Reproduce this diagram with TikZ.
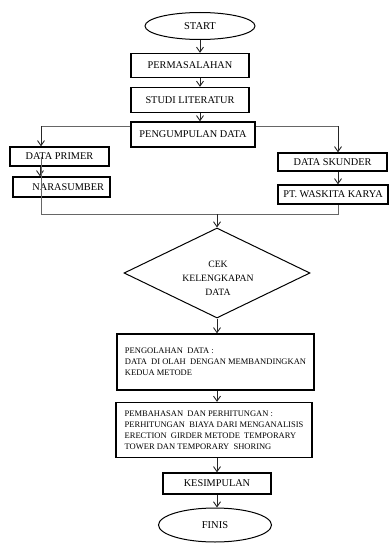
\documentclass[tikz,border=0pt]{standalone}
\usepackage{fontspec}
\setmainfont{Liberation Serif}
\usetikzlibrary{shapes.geometric,arrows.meta}
\begin{document}
\begin{tikzpicture}[x=1pt,y=-1pt,
  box/.style={draw=black,line width=1.3pt,rectangle,inner sep=0pt,font=\fontsize{10.3}{12}\selectfont},
  oval/.style={draw=black,line width=1pt,ellipse,inner sep=0pt,font=\fontsize{10.5}{12}\selectfont},
  txtbox/.style={draw=black,line width=1.3pt,rectangle,inner sep=0pt,align=left,font=\fontsize{8.5}{11}\selectfont},
  conn/.style={draw=black!60,line width=0.8pt},
  arr/.style={draw=black!85,line width=0.9pt,-{Straight Barb[length=5pt,width=7pt]}}]
\useasboundingbox (0,0) rectangle (389,543);

\node[oval,minimum width=110pt,minimum height=27pt] (start) at (200,26) {START};
\node[box,minimum width=118pt,minimum height=24pt] (perm) at (190,65.5) {PERMASALAHAN};
\node[box,minimum width=118pt,minimum height=25pt] (studi) at (190,100) {STUDI LITERATUR};
\node[box,minimum width=124pt,minimum height=25pt] (pd) at (193,134.5) {PENGUMPULAN DATA};
\node[box,minimum width=99pt,minimum height=19pt] (dp) at (59.5,156.5) {DATA PRIMER};
\node[box,minimum width=97pt,minimum height=20pt,text width=85pt,align=right] (nara) at (61.5,187) {NARASUMBER};
\node[box,minimum width=109pt,minimum height=18pt] (ds) at (332.5,162) {DATA SKUNDER};
\node[box,minimum width=110pt,minimum height=19pt] (pt) at (333,194.5) {PT. WASKITA KARYA};
\node[draw=black,line width=1pt,diamond,aspect=2,inner sep=0pt,minimum width=186pt,minimum height=90pt] (cek) at (217,273) {};
\node[align=center,font=\fontsize{9.7}{14}\selectfont] (cektxt) at (218,278) {CEK\\KELENGKAPAN\\DATA};
\node[txtbox,minimum width=197pt,minimum height=56pt] (peng) at (215.5,362) {PENGOLAHAN\ \ DATA :\\DATA\ \ DI OLAH\ \ DENGAN MEMBANDINGKAN\\KEDUA METODE};
\node[txtbox,minimum width=196pt,minimum height=55pt] (pemb) at (214,430) {PEMBAHASAN\ \ DAN PERHITUNGAN :\\PERHITUNGAN\ \ BIAYA DARI MENGANALISIS\\ERECTION\ \ GIRDER METODE\ \ TEMPORARY\\TOWER DAN TEMPORARY\ \ SHORING};
\node[box,minimum width=108pt,minimum height=21pt] (kes) at (217,483.5) {KESIMPULAN};
\node[oval,minimum width=113pt,minimum height=34pt] (finis) at (215,525) {FINIS};

\coordinate (lt) at (41,126);
\coordinate (rt) at (338,126);
\coordinate (lb) at (41,214);
\coordinate (rb) at (338,214);
\coordinate (mb) at (217,214);

\draw[arr] (start.south) -- (start.south |- perm.north);
\draw[arr] (start.south |- perm.south) -- (start.south |- studi.north);
\draw[arr] (start.south |- studi.south) -- (start.south |- pd.north);

\draw[conn] (pd.west |- lt) -- (lt);
\draw[arr] (lt) -- (lt |- dp.north);
\draw[conn] (pd.east |- rt) -- (rt);
\draw[arr] (rt) -- (rt |- ds.north);

\draw[arr] (40,0 |- dp.south) -- (40,0 |- nara.north);
\draw[arr] (rt |- ds.south) -- (rt |- pt.north);

\draw[conn] (lt |- dp.center) -- (lb) -- (rb) -- (rb |- pt.south);
\draw[arr] (mb) -- (cek.north);

\draw[arr] (cek.south) -- (cek.south |- peng.north);
\draw[arr] (cek.south |- peng.south) -- (cek.south |- pemb.north);
\draw[arr] (cek.south |- pemb.south) -- (cek.south |- kes.north);
\draw[arr] (cek.south |- kes.south) -- (cek.south |- finis.north);
\end{tikzpicture}
\end{document}
